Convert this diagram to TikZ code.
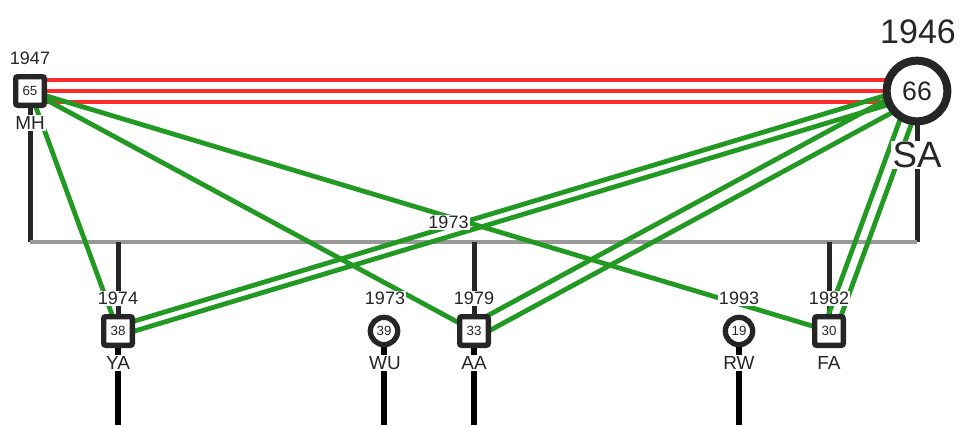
\documentclass[tikz,border=0pt]{standalone}
\usepackage{fontspec}
\setmainfont{Liberation Sans}
\definecolor{inkc}{HTML}{262626}
\definecolor{barc}{HTML}{999999}
\definecolor{grn}{HTML}{229922}
\definecolor{rd}{HTML}{FF2A2A}
\begin{document}
\begin{tikzpicture}[x=0.75pt,y=-0.75pt,
  vline/.style={draw=inkc, line width=3.75pt},
  lowline/.style={draw=black, line width=3.9pt},
  barline/.style={draw=barc, line width=3.4pt},
  gline/.style={draw=grn, line width=3.6pt},
  rline/.style={draw=rd, line width=3.1pt},
  sqnode/.style={draw=inkc, fill=white, line width=4pt, rectangle, rounded corners=1.5pt,
     minimum size=21.5pt, inner sep=0pt, text=inkc, font=\fontsize{10}{12}\selectfont},
  cinode/.style={draw=inkc, fill=white, line width=4pt, circle,
     minimum size=20.5pt, inner sep=0pt, text=inkc, font=\fontsize{10}{12}\selectfont},
  bignode/.style={draw=inkc, fill=white, line width=6pt, circle,
     minimum size=45.5pt, inner sep=0pt, text=inkc, font=\fontsize{20}{24}\selectfont},
  lbl/.style={fill=white, inner sep=0.8pt, text=inkc, font=\fontsize{13.5}{16}\selectfont},
  namelbl/.style={fill=white, inner sep=0.8pt, text=inkc, font=\fontsize{14.2}{17}\selectfont},
  biglbl/.style={fill=white, inner sep=1pt, text=inkc, font=\fontsize{26}{30}\selectfont}
]
\useasboundingbox (0,0) rectangle (962,425);

% node positions
\coordinate (pMH) at (30,91);
\coordinate (pSA) at (917,91);
\coordinate (barL) at (30,242);
\coordinate (barR) at (917,242);
\coordinate (pYA) at (118,331);
\coordinate (pWU) at (384,331);
\coordinate (pAA) at (474,331);
\coordinate (pRW) at (739,331);
\coordinate (pFA) at (829,331);
\coordinate (eYA) at (118,425);
\coordinate (eWU) at (384,425);
\coordinate (eAA) at (474,425);
\coordinate (eRW) at (739,425);

% genealogy frame
\draw[vline] (pMH) -- (barL);
\draw[vline] (pSA) -- (barR);
\draw[barline] (barL) -- (barR);
\draw[vline] (pYA) -- (pYA |- barL);
\draw[vline] (pAA) -- (pAA |- barL);
\draw[vline] (pFA) -- (pFA |- barL);
\draw[lowline] (pYA) -- (eYA);
\draw[lowline] (pWU) -- (eWU);
\draw[lowline] (pAA) -- (eAA);
\draw[lowline] (pRW) -- (eRW);

% relations
\draw[rline] ([shift={(0,-11)}]pMH) -- ([shift={(0,-11)}]pSA);
\draw[rline] (pMH) -- (pSA);
\draw[rline] ([shift={(0,11)}]pMH) -- ([shift={(0,11)}]pSA);

\draw[gline] (pMH) -- (pYA);
\draw[gline] (pMH) -- (pAA);
\draw[gline] (pMH) -- (pFA);

\draw[gline] ([shift={(0,-5)}]pSA) -- ([shift={(0,-5)}]pYA);
\draw[gline] ([shift={(0,5)}]pSA) -- ([shift={(0,5)}]pYA);
\draw[gline] ([shift={(0,-8)}]pSA) -- ([shift={(0,-8)}]pAA);
\draw[gline] ([shift={(0,8)}]pSA) -- ([shift={(0,8)}]pAA);
\draw[gline] ([shift={(-6.5,0)}]pSA) -- ([shift={(-6.5,0)}]pFA);
\draw[gline] ([shift={(6.5,0)}]pSA) -- ([shift={(6.5,0)}]pFA);

% persons
\node[sqnode] (MH) at (pMH) {65};
\node[bignode] (SA) at (pSA) {66};
\node[sqnode] (YA) at (pYA) {38};
\node[cinode] (WU) at (pWU) {39};
\node[sqnode] (AA) at (pAA) {33};
\node[cinode] (RW) at (pRW) {19};
\node[sqnode] (FA) at (pFA) {30};

% labels
\node[lbl] (yMH) at (30,58.5) {1947};
\node[namelbl] (nMH) at (30,123) {MH};
\node[biglbl, font=\fontsize{25.5}{30}\selectfont] (ySA) at (918,31.5) {1946};
\node[biglbl, font=\fontsize{27.5}{32}\selectfont] (nSA) at (917,155) {SA};
\node[lbl] (yYA) at (118,298.5) {1974};
\node[namelbl] (nYA) at (118,363) {YA};
\node[lbl] (yWU) at (385,298.5) {1973};
\node[namelbl] (nWU) at (385,363) {WU};
\node[lbl] (yAA) at (474,298.5) {1979};
\node[namelbl] (nAA) at (474,363) {AA};
\node[lbl] (yRW) at (739,298.5) {1993};
\node[namelbl] (nRW) at (739,363) {RW};
\node[lbl] (yFA) at (829,298.5) {1982};
\node[namelbl] (nFA) at (829,363) {FA};
\node[lbl] (ymar) at (448.5,222.5) {1973};
\end{tikzpicture}
\end{document}
